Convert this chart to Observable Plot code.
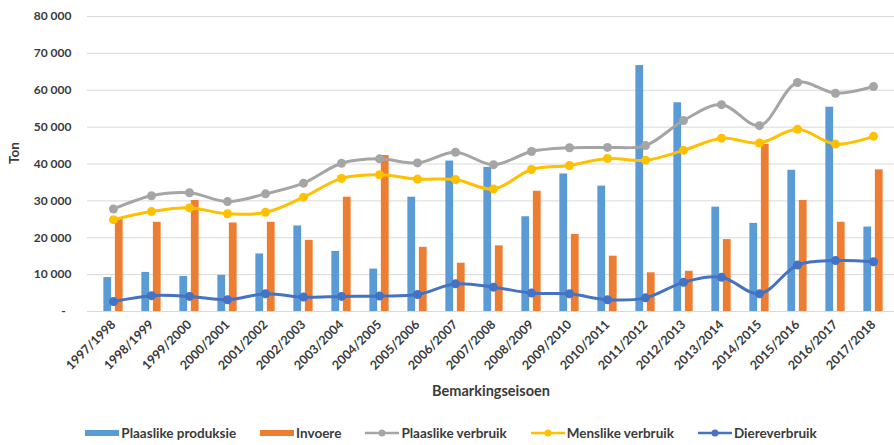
<!DOCTYPE html>
<html>
<head>
<meta charset="utf-8">
<script src="https://cdn.jsdelivr.net/npm/d3@7"></script>
<script src="https://cdn.jsdelivr.net/npm/@observablehq/plot@0.6"></script>
<style>
  body { margin: 0; background: #fff; font-family: Lato, "Open Sans", sans-serif; }
  #chart { position: relative; width: 894px; height: 445px; }
  #chart svg text { font-weight: bold; }
  #legend {
    position: absolute; left: 0; top: 425px; width: 894px; height: 16px; box-sizing: border-box; padding-left: 8px;
    display: flex; justify-content: center; align-items: center;
    font-size: 13.5px; font-weight: bold; color: #3a3a3a;
  }
  #legend .item { display: flex; align-items: center; margin: 0 12px; }
  #legend svg { margin-right: 2px; }
</style>
</head>
<body>
<div id="chart"><div id="legend"></div></div>
<script>
// Marketing seasons
const seasons = [
  "1997/1998", "1998/1999", "1999/2000", "2000/2001", "2001/2002", "2002/2003",
  "2003/2004", "2004/2005", "2005/2006", "2006/2007", "2007/2008", "2008/2009",
  "2009/2010", "2010/2011", "2011/2012", "2012/2013", "2013/2014", "2014/2015",
  "2015/2016", "2016/2017", "2017/2018"
];

// Tonnes per season
const plaaslikeProduksie = [9200, 10600, 9500, 9800, 15600, 23200, 16300, 11500, 31000, 40800, 39100, 25700, 37300, 34000, 66700, 56600, 28300, 23900, 38300, 55400, 22900];
const invoere = [25100, 24200, 30100, 24000, 24200, 19300, 31000, 42300, 17400, 13100, 17800, 32600, 20900, 15000, 10500, 10900, 19500, 45300, 30100, 24200, 38400];
const plaaslikeVerbruik = [27800, 31400, 32200, 29800, 31900, 34800, 40200, 41400, 40300, 43200, 39800, 43400, 44400, 44500, 45000, 51800, 56100, 50400, 62100, 59200, 61000];
const menslikeVerbruik = [24900, 27100, 28100, 26500, 26900, 31000, 36100, 37100, 35900, 35800, 33200, 38500, 39600, 41500, 41000, 43700, 47000, 45700, 49400, 45400, 47500];
const diereverbruik = [2700, 4300, 4100, 3200, 4800, 3900, 4100, 4200, 4600, 7500, 6600, 5000, 4800, 3200, 3700, 7900, 9300, 4800, 12600, 13800, 13500];

const yTicks = [0, 10000, 20000, 30000, 40000, 50000, 60000, 70000, 80000];

const colors = {
  produksie: "#5b9bd5",
  invoere: "#ed7d31",
  plaaslik: "#a5a5a5",
  menslik: "#ffc000",
  diere: "#4472c4"
};

const lineSeries = [
  {name: "Plaaslike verbruik", values: plaaslikeVerbruik, color: colors.plaaslik},
  {name: "Menslike verbruik", values: menslikeVerbruik, color: colors.menslik},
  {name: "Diereverbruik", values: diereverbruik, color: colors.diere}
];

const prodRows = seasons.map((season, i) => ({season, value: plaaslikeProduksie[i]}));
const importRows = seasons.map((season, i) => ({season, value: invoere[i]}));
const lineRows = lineSeries.flatMap(s => seasons.map((season, i) => ({season, value: s.values[i], series: s.name})));

// Layout of the band scale and the paired bars inside each band
const xRange = [88.4, 897.6];
const step = (xRange[1] - xRange[0]) / seasons.length;
const barWidth = 8.3;
const halfGap = 1.6;

const num = d3.formatLocale({decimal: ",", thousands: "\u00a0", grouping: [3], currency: ["", ""]}).format(",d");
const yFormat = d => d === 0 ? "-\u00a0\u00a0" : num(d);

const height = 420;
const plot = Plot.plot({
  width: 894,
  height,
  marginLeft: 87,
  marginRight: 0,
  marginTop: 16,
  marginBottom: height - 311,
  style: {fontFamily: "Lato, 'Open Sans', sans-serif", fontSize: "12px", color: "#3a3a3a", background: "#fff"},
  x: {type: "band", domain: seasons, range: xRange, padding: 0},
  y: {domain: [0, 80000]},
  color: {domain: lineSeries.map(s => s.name), range: lineSeries.map(s => s.color)},
  marks: [
    Plot.ruleY(yTicks, {stroke: "#d9d9d9", strokeWidth: 1}),
    Plot.barY(prodRows, {
      x: "season", y: "value", fill: colors.produksie,
      insetLeft: step / 2 - halfGap - barWidth, insetRight: step / 2 + halfGap
    }),
    Plot.barY(importRows, {
      x: "season", y: "value", fill: colors.invoere,
      insetLeft: step / 2 + halfGap, insetRight: step / 2 - halfGap - barWidth
    }),
    Plot.line(lineRows, {x: "season", y: "value", z: "series", stroke: "series", strokeWidth: 3, curve: "catmull-rom"}),
    Plot.dot(lineRows, {x: "season", y: "value", fill: "series", r: 4.5}),
    Plot.axisY({ticks: yTicks, tickFormat: yFormat, tickSize: 0, tickPadding: 16, fontSize: 12, label: null}),
    Plot.axisX({tickRotate: -45, tickSize: 0, tickPadding: 11, fontSize: 12.5, label: null}),
    Plot.text(["Ton"], {frameAnchor: "left", dx: -73, rotate: -90, fontSize: 13.5}),
    Plot.text(["Bemarkingseisoen"], {frameAnchor: "bottom", dy: 84, fontSize: 14.5})
  ]
});
document.getElementById("chart").prepend(plot);

// Legend below the chart
const legendItems = [
  {name: "Plaaslike produksie", color: colors.produksie, type: "bar"},
  {name: "Invoere", color: colors.invoere, type: "bar"},
  ...lineSeries.map(s => ({name: s.name, color: s.color, type: "line"}))
];
const legend = d3.select("#legend");
for (const item of legendItems) {
  const div = legend.append("div").attr("class", "item");
  const sw = div.append("svg").attr("width", 34).attr("height", 12);
  if (item.type === "bar") {
    sw.append("rect").attr("x", 0).attr("y", 3).attr("width", 34).attr("height", 6).attr("fill", item.color);
  } else {
    sw.append("line").attr("x1", 0).attr("x2", 34).attr("y1", 6).attr("y2", 6).attr("stroke", item.color).attr("stroke-width", 2.5);
    sw.append("circle").attr("cx", 17).attr("cy", 6).attr("r", 3.5).attr("fill", item.color);
  }
  div.append("span").text(item.name);
}
</script>
</body>
</html>
